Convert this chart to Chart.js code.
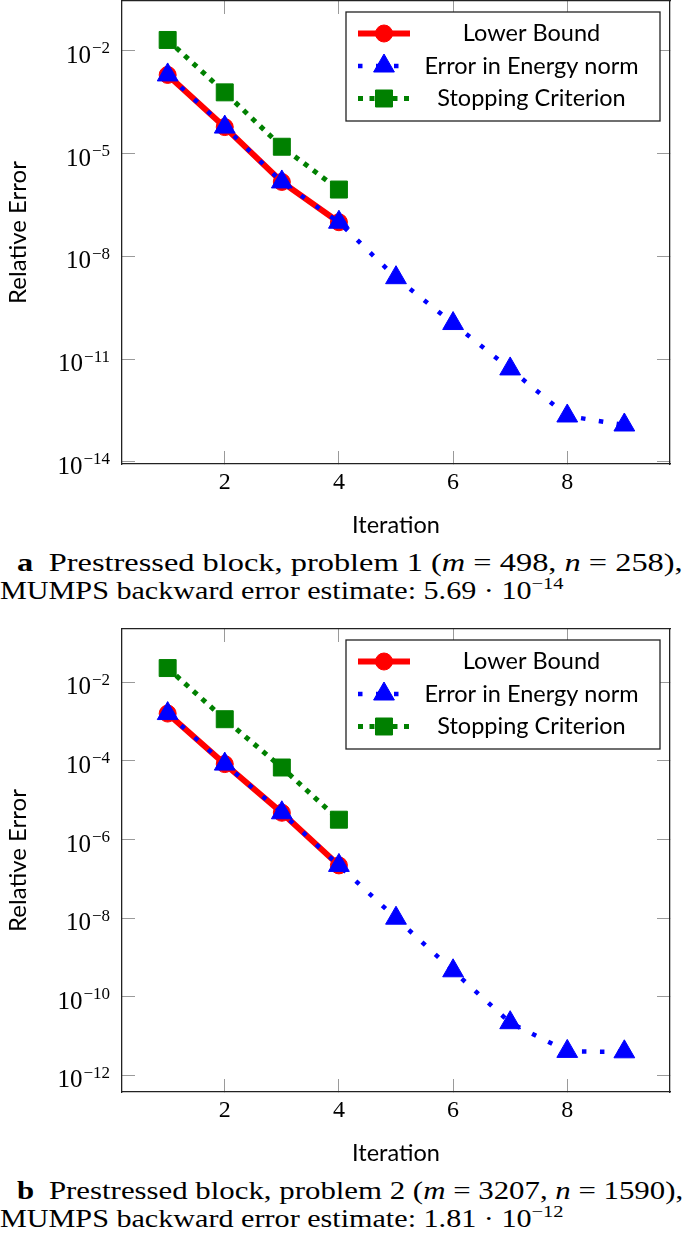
<!DOCTYPE html>
<html>
<head>
<meta charset="utf-8">
<script src="https://cdn.jsdelivr.net/npm/chart.js@4.4.1/dist/chart.umd.min.js"></script>
<style>
  body { margin: 0; background: #fff; width: 685px; height: 1257px; position: relative; overflow: hidden; }
  canvas { position: absolute; left: 0; }
  .caption {
    position: absolute; left: 0;
    font-family: 'Liberation Serif', serif; font-size: 25px; line-height: 28px;
    white-space: nowrap; color: #000;
  }
  .caption span.line { display: inline-block; transform-origin: 0 0; }
  .caption b { margin-right: 12px; }
  .caption sup { font-size: 17px; line-height: 0; vertical-align: 10px; }
</style>
</head>
<body>
<canvas id="chart-a" width="685" height="545" style="top:0"></canvas>
<div class="caption" style="top:549px">
  <div><span class="line" data-from="17" data-to="683"><b>a</b>Prestressed block, problem 1 (<i>m</i> = 498, <i>n</i> = 258),</span></div>
  <div><span class="line" data-from="0" data-to="563">MUMPS backward error estimate: 5.69 · 10<sup>−14</sup></span></div>
</div>
<canvas id="chart-b" width="685" height="545" style="top:628px"></canvas>
<div class="caption" style="top:1177px">
  <div><span class="line" data-from="17" data-to="683"><b>b</b>Prestressed block, problem 2 (<i>m</i> = 3207, <i>n</i> = 1590),</span></div>
  <div><span class="line" data-from="0" data-to="563">MUMPS backward error estimate: 1.81 · 10<sup>−12</sup></span></div>
</div>
<script>
const iterations = [1, 2, 3, 4, 5, 6, 7, 8, 9];
const xTicks = [2, 4, 6, 8];
const seriesLabels = ['Lower Bound', 'Error in Energy norm', 'Stopping Criterion'];

// problem 1 (m = 498)
const lowerBoundA = [2.0e-3, 6.0e-5, 1.5e-6, 1.0e-7];
const energyErrorA = [2.0e-3, 6.0e-5, 1.5e-6, 1.0e-7, 2.4e-9, 1.1e-10, 5.2e-12, 2.2e-13, 1.2e-13];
const stoppingA = [2.1e-2, 6.2e-4, 1.6e-5, 9.0e-7];
const yTicksA = [1e-14, 1e-11, 1e-8, 1e-5, 1e-2];

// problem 2 (m = 3207)
const lowerBoundB = [1.6e-3, 8.3e-5, 4.8e-6, 2.2e-7];
const energyErrorB = [1.6e-3, 8.3e-5, 4.8e-6, 2.2e-7, 1.0e-8, 4.6e-10, 2.2e-11, 4.1e-12, 4.0e-12];
const stoppingB = [2.3e-2, 1.15e-3, 6.8e-5, 3.2e-6];
const yTicksB = [1e-12, 1e-10, 1e-8, 1e-6, 1e-4, 1e-2];

function toPoints(values) {
    return values.map((v, i) => ({ x: iterations[i], y: v }));
}

// legend drawn as a framed box in the upper right, like pgfplots
const boxLegend = {
    id: 'boxLegend',
    afterDatasetsDraw(chart) {
        const { ctx, chartArea } = chart;
        const w = 314, h = 109;
        const left = chartArea.right - 10 - w;
        const top = chartArea.top + 11;
        ctx.save();
        ctx.fillStyle = '#fff';
        ctx.fillRect(left, top, w, h);
        ctx.strokeStyle = '#222';
        ctx.lineWidth = 1.3;
        ctx.strokeRect(left, top, w, h);
        chart.data.datasets.forEach((ds, i) => {
            const y = top + 21.5 + i * 32.5;
            ctx.beginPath();
            ctx.setLineDash(ds.borderDash || []);
            ctx.lineCap = 'butt';
            ctx.lineWidth = ds.borderWidth;
            ctx.strokeStyle = ds.borderColor;
            ctx.moveTo(left + 12, y);
            ctx.lineTo(left + 64, y);
            ctx.stroke();
            ctx.setLineDash([]);
            ctx.fillStyle = ds.pointBackgroundColor;
            ctx.strokeStyle = ds.pointBorderColor;
            ctx.lineWidth = 1;
            Chart.helpers.drawPoint(ctx, { pointStyle: ds.pointStyle, radius: ds.pointRadius, rotation: 0, borderWidth: 1 }, left + 38, y);
            ctx.fillStyle = '#000';
            ctx.font = '23.5px Lato';
            ctx.textAlign = 'center';
            ctx.textBaseline = 'middle';
            ctx.fillText(ds.label, left + 185.5, y);
        });
        ctx.restore();
    }
};

// y tick labels as 10 with a raised exponent
const powerTicks = {
    id: 'powerTicks',
    afterDraw(chart) {
        const scale = chart.scales.y;
        const ctx = chart.ctx;
        ctx.save();
        ctx.fillStyle = '#000';
        ctx.textAlign = 'right';
        ctx.textBaseline = 'alphabetic';
        scale.ticks.forEach(tick => {
            const y = scale.getPixelForValue(tick.value);
            const exp = '\u2212' + String(-Math.round(Math.log10(tick.value)));
            const right = scale.right - 12;
            ctx.font = '17px "Liberation Serif"';
            ctx.fillText(exp, right, y + 2.5);
            const expWidth = ctx.measureText(exp).width;
            ctx.font = '25px "Liberation Serif"';
            ctx.fillText('10', right - expWidth - 1, y + 12);
        });
        ctx.restore();
    }
};

function frameAxis(axisPos, type, min, max, ticks, size) {
    const horizontal = axisPos === 'top' || axisPos === 'bottom';
    return {
        type: type,
        position: axisPos,
        min: min,
        max: max,
        afterBuildTicks: function(scale) {
            scale.ticks = ticks.map(v => ({ value: v }));
        },
        afterFit: function(scale) {
            if (horizontal) {
                scale.height = size;
            } else {
                scale.width = size;
            }
            scale.paddingLeft = scale.paddingRight = scale.paddingTop = scale.paddingBottom = 0;
        },
        grid: {
            drawOnChartArea: false,
            drawTicks: true,
            tickLength: -13,
            color: '#9a9a9a',
            lineWidth: 1
        },
        border: { color: '#222', width: 1.3 },
        ticks: { display: false }
    };
}

function makeChart(canvasId, lower, energy, stopping, yTicks, yMin, yMax) {
    const xAxis = frameAxis('bottom', 'linear', 0.2, 9.8, xTicks, 81);
    xAxis.ticks = {
        display: true,
        autoSkip: false,
        maxRotation: 0,
        padding: 17,
        color: '#000',
        font: { family: 'Liberation Serif', size: 24 }
    };
    xAxis.title = {
        display: true,
        text: 'Iteration',
        color: '#000',
        font: { family: 'Lato', size: 23.5 },
        padding: { top: 0, bottom: 5 }
    };

    const yAxis = frameAxis('left', 'logarithmic', yMin, yMax, yTicks, 122);
    yAxis.title = {
        display: true,
        text: 'Relative Error',
        color: '#000',
        font: { family: 'Lato', size: 24 },
        padding: { top: 4, bottom: 0 }
    };

    return new Chart(document.getElementById(canvasId), {
        type: 'line',
        data: {
            datasets: [{
                label: seriesLabels[0],
                data: toPoints(lower),
                borderColor: '#ff0000',
                backgroundColor: '#ff0000',
                borderWidth: 6,
                pointStyle: 'circle',
                pointRadius: 8.5,
                pointBackgroundColor: '#ff0000',
                pointBorderColor: '#ff0000',
                pointBorderWidth: 1,
                order: 3
            }, {
                label: seriesLabels[1],
                data: toPoints(energy),
                borderColor: '#0000ff',
                backgroundColor: '#0000ff',
                borderWidth: 4.5,
                borderDash: [4.5, 13.5],
                pointStyle: 'triangle',
                pointRadius: 12,
                pointBackgroundColor: '#0000ff',
                pointBorderColor: '#0000ff',
                pointBorderWidth: 1,
                order: 1
            }, {
                label: seriesLabels[2],
                data: toPoints(stopping),
                borderColor: '#008000',
                backgroundColor: '#008000',
                borderWidth: 5,
                borderDash: [5, 6.5],
                pointStyle: 'rect',
                pointRadius: 12,
                pointBackgroundColor: '#008000',
                pointBorderColor: '#008000',
                pointBorderWidth: 1,
                order: 2
            }]
        },
        options: {
            responsive: false,
            animation: false,
            devicePixelRatio: 1,
            layout: { padding: 0, autoPadding: false },
            plugins: {
                legend: { display: false },
                tooltip: { enabled: false }
            },
            elements: { line: { tension: 0, borderCapStyle: 'butt' } },
            scales: {
                x: xAxis,
                xTop: frameAxis('top', 'linear', 0.2, 9.8, xTicks, 1),
                y: yAxis,
                yRight: frameAxis('right', 'logarithmic', yMin, yMax, yTicks, 15)
            }
        },
        plugins: [boxLegend, powerTicks]
    });
}

makeChart('chart-a', lowerBoundA, energyErrorA, stoppingA, yTicksA, Math.pow(10, -14.06), Math.pow(10, -0.54));
makeChart('chart-b', lowerBoundB, energyErrorB, stoppingB, yTicksB, Math.pow(10, -12.42), Math.pow(10, -0.645));

// stretch each caption line to the span it has in the figure
document.querySelectorAll('.caption span.line').forEach(function(el) {
    const from = Number(el.dataset.from), to = Number(el.dataset.to);
    const s = (to - from) / el.offsetWidth;
    el.style.transform = 'translateX(' + from + 'px) scaleX(' + s.toFixed(4) + ')';
});
</script>
</body>
</html>
